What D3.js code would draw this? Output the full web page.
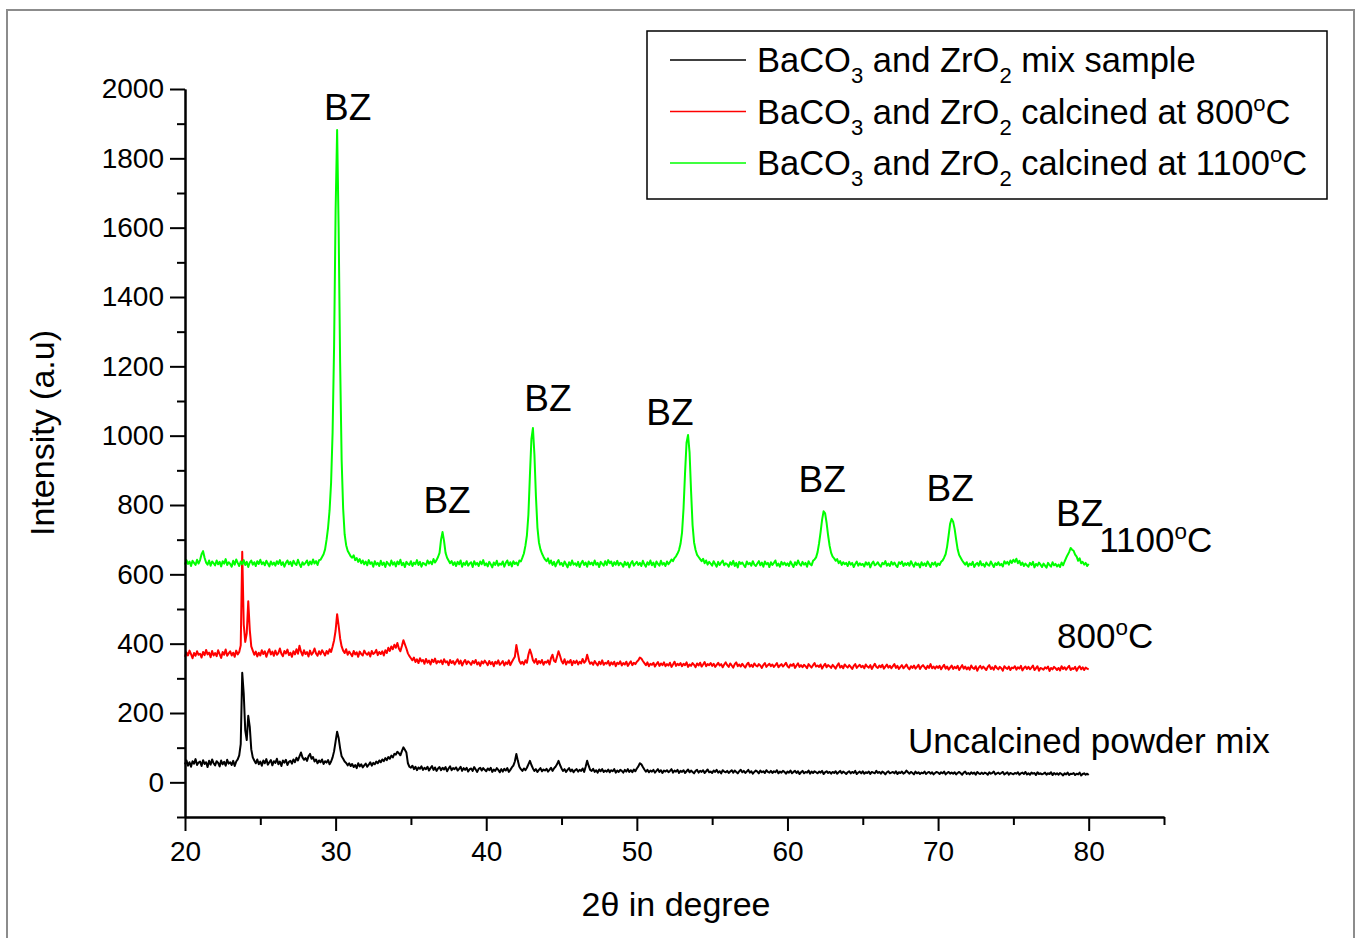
<!DOCTYPE html>
<html>
<head>
  <meta charset="utf-8">
  <title>XRD patterns</title>
  <script src="https://cdn.jsdelivr.net/npm/d3@7"></script>
  <style>
    body { margin: 0; background: #fff; }
    text { font-family: "Liberation Sans", Arial, sans-serif; fill: #000; }
  </style>
</head>
<body>
  <div id="chart"></div>
<script>
  // scan grid: 2theta from 20 to 80 in steps of 0.1 degree
  const twoThetaStart = 20, twoThetaStep = 0.1;

  // uncalcined BaCO3 + ZrO2 mix (black)
  const uncalcined = [
    52, 63, 48, 58, 45, 61, 54, 67, 50, 57,
    60, 47, 64, 53, 58, 44, 62, 51, 66, 55,
    49, 61, 56, 46, 63, 52, 59, 48, 65, 54,
    58, 50, 62, 47, 60, 66, 78, 110, 316, 255,
    150, 122, 192, 160, 95, 72, 63, 55, 66, 52,
    60, 48, 63, 55, 67, 51, 58, 64, 49, 61,
    56, 68, 52, 60, 47, 63, 57, 65, 50, 59,
    62, 54, 66, 58, 71, 63, 75, 86, 72, 65,
    70, 62, 75, 82, 68, 73, 60, 66, 55, 63,
    58, 66, 53, 61, 57, 64, 52, 60, 72, 90,
    118, 146, 128, 98, 75, 68, 60, 56, 49, 55,
    47, 53, 44, 50, 41, 55, 46, 52, 43, 49,
    54, 45, 51, 58, 48, 56, 52, 60, 55, 63,
    58, 66, 61, 70, 64, 73, 68, 77, 72, 82,
    80, 88, 84, 78, 90, 101, 94, 86, 55, 45,
    42, 48, 38, 45, 35, 43, 39, 46, 36, 42,
    38, 45, 34, 41, 47, 36, 43, 33, 40, 44,
    35, 42, 37, 44, 32, 40, 46, 35, 41, 38,
    43, 34, 39, 45, 33, 41, 36, 42, 31, 38,
    40, 33, 44, 37, 30, 39, 42, 34, 41, 36,
    32, 40, 35, 42, 30, 37, 33, 41, 36, 29,
    38, 31, 39, 34, 41, 30, 36, 43, 48, 60,
    82, 62, 45, 38, 33, 40, 35, 42, 52, 62,
    50, 40, 33, 38, 30, 36, 41, 32, 37, 34,
    39, 31, 36, 42, 33, 40, 45, 52, 62, 50,
    40, 33, 38, 30, 36, 41, 32, 37, 29, 35,
    38, 31, 36, 33, 40, 30, 45, 62, 48, 36,
    33, 39, 30, 35, 28, 37, 32, 38, 30, 34,
    31, 37, 29, 35, 32, 38, 28, 34, 30, 36,
    33, 28, 36, 31, 38, 30, 35, 29, 37, 32,
    40, 46, 55, 52, 44, 37, 31, 36, 29, 34,
    31, 36, 28, 33, 38, 30, 35, 27, 34, 31,
    35, 29, 33, 38, 28, 34, 31, 36, 27, 33,
    30, 35, 27, 32, 37, 29, 34, 30, 26, 33,
    36, 28, 33, 30, 35, 27, 32, 37, 29, 31,
    27, 34, 30, 36, 28, 32, 26, 35, 31, 29,
    33, 27, 31, 35, 28, 34, 30, 26, 32, 36,
    29, 33, 27, 31, 36, 28, 32, 25, 30, 34,
    31, 26, 34, 29, 32, 27, 35, 30, 28, 33,
    27, 32, 29, 35, 26, 31, 28, 33, 30, 25,
    31, 28, 34, 26, 30, 33, 27, 32, 24, 29,
    33, 26, 30, 28, 34, 25, 31, 27, 32, 29,
    26, 31, 28, 33, 24, 29, 32, 27, 30, 25,
    30, 27, 32, 25, 29, 33, 26, 31, 28, 24,
    29, 32, 26, 30, 27, 33, 24, 28, 31, 26,
    32, 25, 29, 27, 31, 24, 30, 28, 26, 33,
    27, 30, 25, 31, 28, 23, 29, 32, 26, 28,
    30, 26, 32, 24, 29, 27, 31, 25, 28, 34,
    29, 25, 30, 27, 23, 31, 26, 29, 24, 28,
    26, 31, 24, 28, 30, 25, 29, 23, 27, 30,
    28, 24, 29, 26, 31, 23, 27, 30, 25, 28,
    25, 29, 23, 27, 30, 26, 22, 28, 31, 24,
    27, 23, 29, 25, 28, 22, 30, 26, 24, 28,
    24, 28, 26, 22, 29, 25, 27, 31, 23, 26,
    28, 24, 27, 30, 23, 26, 29, 22, 27, 25,
    23, 27, 25, 29, 22, 26, 28, 24, 30, 23,
    26, 22, 28, 25, 27, 21, 29, 24, 26, 23,
    25, 28, 22, 26, 24, 29, 21, 27, 23, 26,
    22, 27, 24, 20, 26, 23, 28, 21, 25, 24,
    27, 21, 25, 23, 28, 20, 24, 26, 22, 25,
    21
  ];

  // calcined at 800 C (red)
  const calcined800 = [
    362, 375, 366, 380, 370, 358, 373, 365, 378, 368,
    371, 360, 376, 367, 382, 369, 374, 361, 379, 366,
    373, 364, 381, 370, 359, 376, 368, 383, 365, 372,
    378, 366, 374, 362, 380, 369, 376, 395, 665, 455,
    405, 430, 522, 440, 392, 380, 368, 377, 363, 374,
    366, 381, 370, 378, 362, 375, 384, 369, 377, 365,
    380, 368, 373, 386, 371, 364, 379, 372, 383, 367,
    374, 362, 378, 369, 384, 371, 394, 377, 366, 381,
    370, 376, 363, 380, 368, 374, 386, 372, 365, 378,
    369, 381, 374, 366, 379, 371, 384, 376, 392, 410,
    438, 485, 452, 415, 392, 380, 373, 384, 368, 377,
    371, 364, 379, 369, 375, 362, 377, 370, 366, 380,
    372, 368, 375, 363, 379, 370, 374, 382, 367, 376,
    370, 378, 366, 381, 373, 388, 379, 392, 384, 397,
    388, 402, 386, 378, 393, 410, 398, 386, 372, 364,
    358, 352, 360, 347, 355, 344, 358, 349, 353, 342,
    356, 345, 351, 340, 354, 347, 357, 343, 350, 346,
    352, 341, 355, 346, 349, 338, 353, 344, 350, 340,
    348, 355, 342, 351, 337, 347, 353, 341, 349, 345,
    339, 350, 344, 353, 340, 346, 336, 349, 343, 351,
    345, 338, 350, 341, 347, 335, 348, 342, 352, 339,
    344, 350, 337, 346, 341, 352, 338, 347, 355, 362,
    396, 372, 350, 342, 348, 340, 352, 345, 368, 383,
    370, 352, 345, 356, 341, 350, 344, 353, 339, 348,
    345, 352, 340, 358, 368, 351, 347, 362, 378, 365,
    350, 343, 355, 340, 349, 345, 353, 338, 350, 344,
    351, 340, 348, 343, 356, 345, 350, 368, 352, 342,
    346, 339, 350, 343, 337, 348, 341, 352, 339, 345,
    342, 350, 337, 346, 340, 348, 335, 345, 341, 349,
    337, 344, 340, 348, 336, 343, 349, 338, 345, 341,
    348, 352, 360, 357, 350, 344, 338, 346, 335, 342,
    339, 345, 334, 341, 347, 336, 343, 338, 346, 335,
    341, 337, 345, 333, 340, 348, 336, 342, 338, 344,
    335, 342, 338, 346, 333, 340, 336, 344, 339, 332,
    343, 337, 345, 334, 340, 347, 335, 341, 338, 344,
    336, 342, 333, 339, 345, 337, 341, 332, 340, 346,
    338, 333, 343, 337, 331, 341, 346, 335, 340, 334,
    342, 336, 331, 340, 345, 334, 339, 333, 343, 337,
    334, 341, 337, 330, 339, 344, 333, 338, 342, 335,
    340, 333, 338, 344, 332, 337, 341, 334, 339, 345,
    335, 331, 340, 336, 342, 330, 337, 343, 333, 338,
    332, 339, 335, 329, 341, 336, 331, 338, 344, 334,
    337, 333, 340, 328, 336, 342, 332, 338, 335, 330,
    339, 334, 328, 337, 343, 331, 336, 329, 340, 335,
    331, 338, 333, 327, 336, 341, 330, 335, 339, 332,
    336, 329, 340, 334, 331, 338, 327, 335, 342, 333,
    330, 337, 332, 339, 328, 334, 340, 331, 336, 329,
    335, 341, 330, 336, 327, 333, 338, 329, 334, 340,
    331, 326, 335, 330, 337, 328, 333, 339, 327, 334,
    338, 332, 327, 336, 330, 341, 329, 334, 328, 335,
    330, 336, 326, 333, 339, 328, 334, 325, 331, 337,
    327, 333, 329, 336, 324, 331, 338, 328, 334, 326,
    332, 325, 337, 330, 327, 335, 322, 331, 336, 328,
    334, 329, 324, 333, 338, 327, 332, 325, 336, 330,
    326, 333, 329, 322, 335, 330, 327, 334, 324, 331,
    329, 335, 325, 332, 328, 336, 323, 330, 334, 327,
    333, 326, 331, 337, 324, 329, 335, 322, 330, 328,
    325, 332, 328, 334, 321, 330, 326, 333, 329, 324,
    330, 323, 335, 327, 332, 325, 331, 336, 324, 329,
    327, 333, 322, 330, 335, 326, 332, 324, 331, 328,
    326
  ];

  // calcined at 1100 C (green)
  const calcined1100 = [
    628, 641, 630, 637, 624, 639, 633, 627, 642, 631,
    641, 658, 667, 648, 634, 628, 640, 625, 637, 632,
    626, 640, 629, 636, 623, 638, 631, 644, 627, 635,
    630, 622, 639, 628, 643, 633, 624, 637, 629, 641,
    627, 636, 621, 634, 640, 628, 635, 624, 638, 630,
    642, 629, 635, 626, 639, 631, 623, 637, 628, 634,
    625, 638, 630, 641, 627, 635, 622, 633, 640, 629,
    636, 624, 639, 631, 627, 642, 630, 621, 635, 628,
    633, 640, 626, 637, 629, 643, 631, 638, 627, 641,
    642, 650, 658, 672, 700, 735, 785, 865, 1010, 1260,
    1650, 1882, 1600, 1210, 930, 790, 715, 684, 668, 660,
    652, 648, 655, 641, 647, 636, 644, 632, 640, 629,
    637, 626, 641, 630, 635, 622, 638, 628, 633, 624,
    639, 627, 634, 621, 636, 630, 625, 640, 628, 635,
    623, 637, 629, 642, 626, 633, 621, 636, 630, 627,
    638, 624, 634, 629, 641, 627, 636, 622, 633, 630,
    626, 640, 631, 637, 629, 644, 634, 641, 650, 662,
    700, 722, 696, 662, 648, 640, 632, 638, 627, 635,
    624, 636, 629, 640, 622, 633, 627, 638, 625, 631,
    635, 621, 638, 628, 633, 624, 637, 629, 641, 626,
    632, 623, 636, 629, 620, 634, 627, 639, 625, 631,
    628, 637, 622, 633, 640, 626, 635, 623, 638, 630,
    634, 626, 640, 637, 648, 660, 682, 712, 772, 885,
    990, 1022, 945, 825, 735, 692, 672, 660, 651, 643,
    638, 646, 631, 640, 627, 636, 623, 634, 641, 628,
    633, 624, 637, 629, 620, 635, 626, 640, 628, 632,
    625, 636, 621, 632, 639, 627, 634, 622, 637, 629,
    634, 626, 640, 628, 633, 621, 636, 630, 625, 638,
    627, 641, 632, 637, 624, 635, 628, 639, 626, 633,
    630, 622, 636, 627, 634, 620, 632, 638, 625, 631,
    636, 627, 633, 624, 639, 629, 622, 635, 628, 640,
    626, 634, 621, 637, 630, 625, 639, 628, 633, 624,
    637, 629, 635, 643, 638, 647, 652, 660, 670, 688,
    720, 790, 892, 980, 1002, 952, 840, 742, 692, 670,
    656, 650, 644, 638, 645, 632, 640, 628, 636, 631,
    625, 638, 630, 622, 636, 627, 634, 640, 626, 632,
    629, 622, 635, 628, 639, 624, 633, 620, 636, 630,
    634, 627, 621, 637, 629, 633, 625, 638, 628, 624,
    631, 638, 626, 634, 622, 637, 629, 633, 621, 635,
    627, 633, 640, 625, 631, 622, 636, 628, 634, 626,
    632, 624, 637, 629, 621, 635, 627, 640, 630, 625,
    636, 628, 633, 622, 638, 630, 626, 639, 643, 649,
    664, 690, 722, 758, 782, 776, 748, 712, 682, 662,
    651, 646, 639, 644, 632, 638, 627, 635, 629, 633,
    624, 636, 628, 633, 621, 630, 637, 625, 632, 627,
    630, 623, 635, 628, 634, 620, 631, 637, 626, 629,
    635, 627, 622, 633, 629, 638, 625, 631, 624, 636,
    628, 634, 626, 621, 635, 630, 637, 624, 632, 627,
    633, 625, 638, 629, 622, 634, 627, 631, 620, 635,
    626, 632, 624, 637, 629, 621, 633, 628, 635, 623,
    631, 627, 636, 640, 648, 658, 680, 712, 746, 760,
    752, 731, 700, 672, 656, 648, 640, 634, 628, 635,
    623, 631, 627, 636, 621, 629, 633, 625, 638, 626,
    630, 622, 634, 628, 625, 637, 629, 621, 632, 627,
    635, 626, 630, 623, 638, 631, 636, 628, 640, 633,
    642, 636, 645, 632, 639, 627, 634, 624, 631, 626,
    622, 633, 627, 636, 620, 630, 625, 634, 628, 621,
    631, 625, 619, 633, 627, 622, 635, 626, 630, 623,
    628, 621, 634, 626, 637, 647, 656, 664, 676, 671,
    668, 657, 651, 639, 646, 632, 636, 628, 633, 624,
    630
  ];

  const seriesData = [uncalcined, calcined800, calcined1100];
  const seriesColors = ["#000000", "#ff0000", "#00ff00"];

  // legend text pieces: [text, kind] kind: "n" normal, "sub", "sup"
  const legendLabels = [
    [["BaCO", "n"], ["3", "sub"], [" and ZrO", "n"], ["2", "sub"], [" mix sample", "n"]],
    [["BaCO", "n"], ["3", "sub"], [" and ZrO", "n"], ["2", "sub"], [" calcined at 800", "n"], ["o", "sup"], ["C", "n"]],
    [["BaCO", "n"], ["3", "sub"], [" and ZrO", "n"], ["2", "sub"], [" calcined at 1100", "n"], ["o", "sup"], ["C", "n"]]
  ];

  // BZ peak annotations (2theta, intensity at text baseline)
  const peakLabelX = [30.8, 37.4, 44.1, 52.2, 62.3, 70.8, 79.4];
  const peakLabelY = [1912, 776, 1070, 1032, 838, 812, 740];

  // curve names (start 2theta, intensity at baseline)
  const curveLabels = [
    {parts: [["Uncalcined powder mix", "n"]], x: 68.0, y: 85},
    {parts: [["800", "n"], ["o", "sup"], ["C", "n"]], x: 77.9, y: 387},
    {parts: [["1100", "n"], ["o", "sup"], ["C", "n"]], x: 80.7, y: 663}
  ];

  const xMajor = [20, 30, 40, 50, 60, 70, 80];
  const xMinor = [25, 35, 45, 55, 65, 75, 85];
  const yMajor = [0, 200, 400, 600, 800, 1000, 1200, 1400, 1600, 1800, 2000];
  const yMinor = [-100, 100, 300, 500, 700, 900, 1100, 1300, 1500, 1700, 1900];

  const W = 1355, H = 938;
  const margin = {top: 89, left: 185};
  const width = 979, height = 728;

  const svg = d3.select("#chart").append("svg")
    .attr("width", W).attr("height", H);

  // outer frame
  svg.append("rect")
    .attr("x", 7).attr("y", 10).attr("width", 1347).attr("height", 940)
    .attr("fill", "none").attr("stroke", "#8c8c8c").attr("stroke-width", 2);

  const g = svg.append("g").attr("transform", "translate(" + margin.left + "," + margin.top + ")");

  const x = d3.scaleLinear().domain([20, 85]).range([0, width]);
  const y = d3.scaleLinear().domain([-100, 2000]).range([height, 0]);

  // curves
  const line = d3.line()
    .x((d, i) => x(twoThetaStart + i * twoThetaStep))
    .y(d => y(d));

  g.selectAll(".curve")
    .data(seriesData)
    .enter().append("path")
      .attr("class", "curve")
      .attr("d", d => line(d))
      .attr("fill", "none")
      .attr("stroke", (d, i) => seriesColors[i])
      .attr("stroke-width", 2)
      .attr("stroke-linejoin", "round");

  // axes
  function styleAxis(sel) {
    sel.selectAll("path.domain").attr("stroke", "#000").attr("stroke-width", 2);
    sel.selectAll(".tick line").attr("stroke", "#000").attr("stroke-width", 2);
    sel.selectAll(".tick text")
      .attr("font-family", "Liberation Sans, Arial, sans-serif")
      .attr("font-size", 28).attr("fill", "#000");
  }

  g.append("g").attr("transform", "translate(0," + height + ")")
    .call(d3.axisBottom(x).tickValues(xMinor).tickSize(8).tickSizeOuter(0).tickFormat(""))
    .call(styleAxis);
  g.append("g").attr("transform", "translate(0," + height + ")")
    .call(d3.axisBottom(x).tickValues(xMajor).tickSize(14).tickSizeOuter(0).tickPadding(10).tickFormat(d3.format("d")))
    .call(styleAxis);

  g.append("g")
    .call(d3.axisLeft(y).tickValues(yMinor).tickSize(8).tickSizeOuter(0).tickFormat(""))
    .call(styleAxis);
  g.append("g")
    .call(d3.axisLeft(y).tickValues(yMajor).tickSize(15).tickSizeOuter(0).tickPadding(6).tickFormat(d3.format("d")))
    .call(styleAxis);

  // axis titles
  svg.append("text")
    .attr("x", margin.left + x(52.6)).attr("y", 916)
    .attr("text-anchor", "middle").attr("font-size", 34)
    .text("2θ in degree");

  svg.append("text")
    .attr("transform", "translate(54,433) rotate(-90)")
    .attr("text-anchor", "middle").attr("font-size", 34)
    .text("Intensity (a.u)");

  // rich text helper
  function richText(sel, parts, size) {
    let shift = 0;
    parts.forEach(([t, kind]) => {
      const target = kind === "sub" ? 11 : kind === "sup" ? -13 : 0;
      sel.append("tspan")
        .attr("dy", target - shift)
        .attr("font-size", kind === "n" ? size : size * 0.64)
        .text(t);
      shift = target;
    });
  }

  // peak labels
  g.selectAll(".bz")
    .data(peakLabelX)
    .enter().append("text")
      .attr("class", "bz")
      .attr("x", d => x(d))
      .attr("y", (d, i) => y(peakLabelY[i]))
      .attr("text-anchor", "middle")
      .attr("font-size", 37)
      .text("BZ");

  curveLabels.forEach(c => {
    const t = g.append("text").attr("x", x(c.x)).attr("y", y(c.y)).attr("font-size", 35);
    richText(t, c.parts, 35);
  });

  // legend
  const legend = svg.append("g");
  legend.append("rect")
    .attr("x", 647).attr("y", 31).attr("width", 680).attr("height", 168)
    .attr("fill", "#fff").attr("stroke", "#000").attr("stroke-width", 1.5);

  legendLabels.forEach((parts, i) => {
    const ly = 60 + i * 51.5;
    legend.append("line")
      .attr("x1", 670).attr("x2", 746).attr("y1", ly).attr("y2", ly)
      .attr("stroke", seriesColors[i]).attr("stroke-width", 1.5);
    const t = legend.append("text").attr("x", 757).attr("y", ly + 12).attr("font-size", 34.5);
    richText(t, parts, 34.5);
  });
</script>
</body>
</html>
